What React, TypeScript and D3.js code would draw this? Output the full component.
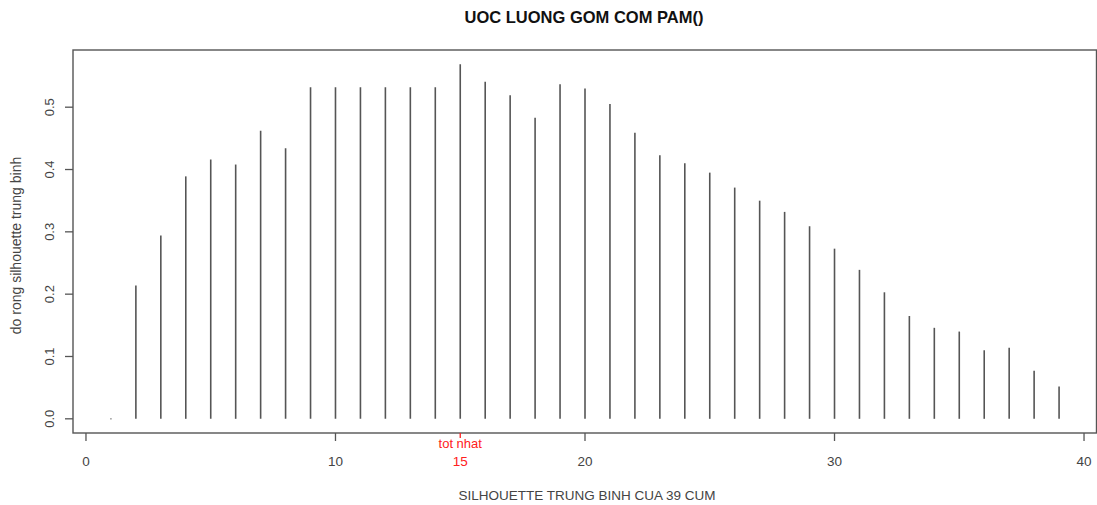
import React from 'react';
import * as d3 from 'd3';

// Number of clusters k and average silhouette width for each
const clusters = [
  1, 2, 3, 4, 5, 6, 7, 8, 9, 10, 11, 12, 13, 14, 15, 16, 17, 18, 19, 20,
  21, 22, 23, 24, 25, 26, 27, 28, 29, 30, 31, 32, 33, 34, 35, 36, 37, 38, 39,
];
const silWidth = [
  0, 0.214, 0.294, 0.389, 0.416, 0.408, 0.462, 0.434, 0.532, 0.532,
  0.532, 0.532, 0.532, 0.532, 0.569, 0.541, 0.519, 0.483, 0.537, 0.53,
  0.505, 0.459, 0.423, 0.41, 0.395, 0.371, 0.35, 0.332, 0.309, 0.273,
  0.239, 0.203, 0.165, 0.146, 0.14, 0.11, 0.114, 0.077, 0.052,
];
const xTicks = [0, 10, 20, 30, 40];
const yTicks = [0, 0.1, 0.2, 0.3, 0.4, 0.5];
const bestK = 15;

const W = 1097;
const H = 505;
const left = 73;
const right = 1097;
const top = 50;
const bottom = 433;

const App = () => {
  // R-style 4% axis extension
  const [xmin, xmax] = d3.extent(clusters) as [number, number];
  const [ymin, ymax] = d3.extent(silWidth) as [number, number];
  const dx = (xmax - xmin) * 0.04;
  const dy = (ymax - ymin) * 0.04;

  const x = d3.scaleLinear().domain([xmin - dx, xmax + dx]).range([left, right]);
  const y = d3.scaleLinear().domain([ymin - dy, ymax + dy]).range([bottom, top]);

  const font = 'Arial, "Liberation Sans", Helvetica, sans-serif';
  const ink = '#555';

  return (
    <svg
      width={W}
      height={H}
      style={{ position: 'absolute', left: 0, top: 0, background: '#fff' }}
      fontFamily={font}
    >
      <text x={(left + right) / 2 - 1} y={23} textAnchor="middle" fontSize={16.5} fontWeight="bold" fill="#111">
        UOC LUONG GOM COM PAM()
      </text>

      {/* vertical "h" lines */}
      {clusters.map((k, i) =>
        silWidth[i] > 0 ? (
          <line key={k} x1={x(k)} x2={x(k)} y1={y(0)} y2={y(silWidth[i])} stroke={ink} strokeWidth={1.6} />
        ) : (
          <rect key={k} x={x(k) - 0.7} y={y(0) - 0.7} width={1.4} height={1.4} fill="#888" />
        )
      )}

      {/* box */}
      <rect x={left} y={top} width={right - left - 0.5} height={bottom - top} fill="none" stroke={ink} strokeWidth={1.4} />

      {/* x axis */}
      {xTicks.map((t) => (
        <g key={t}>
          <line x1={x(t)} x2={x(t)} y1={bottom} y2={bottom + 8} stroke={ink} strokeWidth={1.3} />
          <text x={x(t)} y={466} textAnchor="middle" fontSize={13.5} fill="#444">
            {t}
          </text>
        </g>
      ))}

      {/* y axis */}
      {yTicks.map((t) => (
        <g key={t}>
          <line x1={left - 8} x2={left} y1={y(t)} y2={y(t)} stroke={ink} strokeWidth={1.3} />
          <text
            transform={`translate(54,${y(t)}) rotate(-90)`}
            textAnchor="middle"
            fontSize={13}
            fill="#444"
          >
            {d3.format('.1f')(t)}
          </text>
        </g>
      ))}

      {/* best k marker */}
      <line x1={x(bestK)} x2={x(bestK)} y1={bottom} y2={bottom + 5} stroke="#ff2020" strokeWidth={1.3} />
      <text x={x(bestK)} y={448} textAnchor="middle" fontSize={13} fill="#ff2020">
        tot nhat
      </text>
      <text x={x(bestK)} y={466} textAnchor="middle" fontSize={13.5} fill="#ff2020">
        {bestK}
      </text>

      {/* axis titles */}
      <text x={(left + right) / 2 + 2} y={500} textAnchor="middle" fontSize={13.5} fill="#444">
        SILHOUETTE TRUNG BINH CUA 39 CUM
      </text>
      <text
        transform={`translate(21,${(top + bottom) / 2 + 4}) rotate(-90)`}
        textAnchor="middle"
        fontSize={14}
        fill="#444"
      >
        do rong silhouette trung binh
      </text>
    </svg>
  );
};

export default App;
